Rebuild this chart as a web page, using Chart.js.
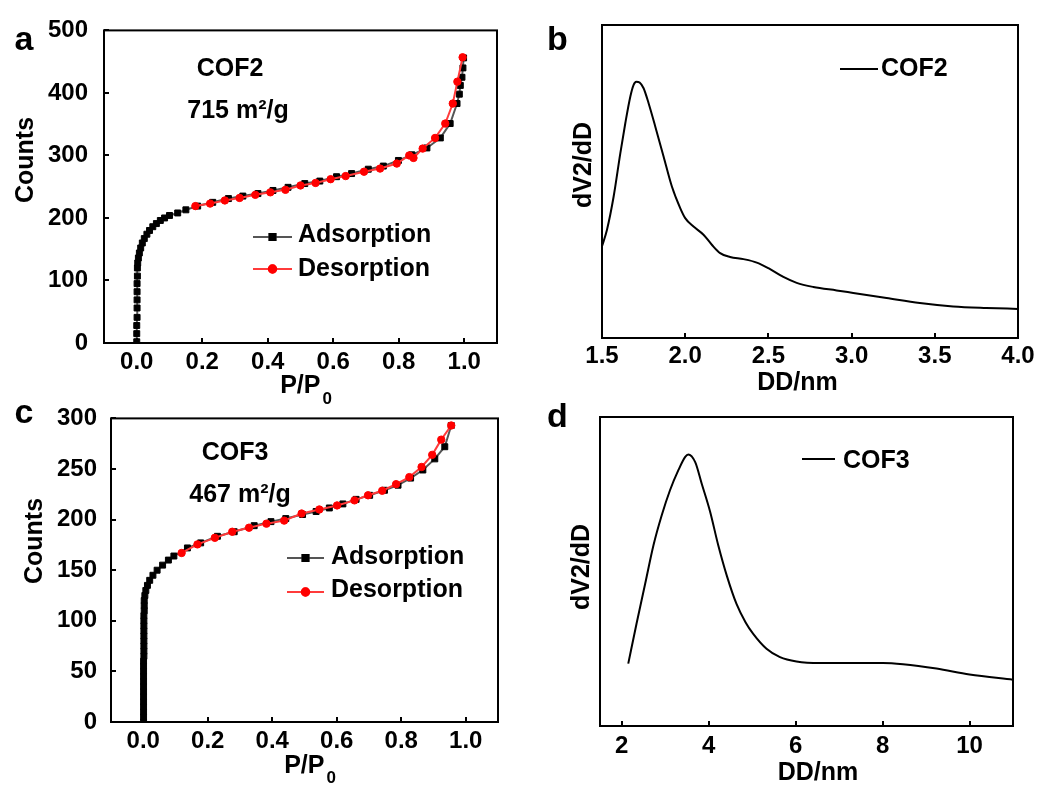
<!DOCTYPE html>
<html lang="en">
<head>
<meta charset="UTF-8">
<title>COF2 / COF3 isotherms and pore size</title>
<style>
  html, body { margin: 0; padding: 0; background: #fff; overflow: hidden; }
  canvas { position: absolute; }
</style>
</head>
<body>
<canvas id="chartA" width="520" height="410" style="left:0;top:0"></canvas>
<canvas id="chartB" width="520" height="410" style="left:520px;top:0"></canvas>
<canvas id="chartC" width="520" height="395" style="left:0;top:390px"></canvas>
<canvas id="chartD" width="520" height="395" style="left:520px;top:390px"></canvas>
<script src="https://cdn.jsdelivr.net/npm/chart.js"></script>
<script>
// ---- data ----
// COF2 isotherm (panel a)
const cof2AdsP = [0.000,0.000,0.000,0.001,0.001,0.001,0.001,0.001,0.002,0.002,
                  0.003,0.005,0.008,0.012,0.017,0.023,0.031,0.039,0.049,0.060,
                  0.072,0.085,0.100,0.125,0.150,0.186,0.232,0.280,0.324,0.370,
                  0.416,0.462,0.513,0.559,0.610,0.656,0.707,0.753,0.799,0.840,
                  0.886,0.927,0.957,0.978,0.985,0.988,0.993,0.996,0.998];
const cof2AdsV = [2,15,28,41,56,69,82,95,107,120,
                  128,136,144,152,160,167,174,180,186,191,
                  196,200,204,208,213,219,225,231,235,239,
                  244,249,255,259,266,271,278,283,292,301,
                  312,328,351,383,398,412,425,440,456];
const cof2DesP = [0.995,0.979,0.965,0.942,0.911,0.873,0.845,0.832,0.794,0.743,0.694,
                  0.638,0.592,0.546,0.500,0.454,0.408,0.362,0.314,0.269,0.224,0.179];
const cof2DesV = [457,418,383,351,328,311,296,300,287,279,274,
                  267,262,256,252,245,241,237,232,228,223,219];

// COF3 isotherm (panel c)
const cof3AdsP = [0.001,0.001,0.001,0.001,0.001,0.001,0.001,0.001,0.001,0.001,0.001,0.001,0.001,
                  0.002,0.002,0.002,0.002,0.002,0.002,0.002,0.002,0.002,0.003,0.003,0.003,
                  0.005,0.008,0.013,0.020,0.030,0.043,0.060,0.078,0.095,
                  0.137,0.178,0.230,0.282,0.344,0.396,0.442,0.494,0.536,0.577,
                  0.619,0.660,0.702,0.748,0.790,0.829,0.867,0.904,0.935,0.955];
const cof3AdsV = [0,5,10,15,20,25,30,35,40,45,50,55,60,
                  65,70,75,80,85,90,95,100,105,110,115,120,
                  125,130,135,140,145,150,155,160,164,
                  172,177,183.5,188,194,198,201,205,208,211.5,
                  215.5,220,224,229,234,241,249,260,272,293];
const cof3DesP = [0.955,0.924,0.896,0.863,0.825,0.784,0.741,0.697,0.655,0.601,
                  0.546,0.491,0.437,0.382,0.328,0.276,0.222,0.168,0.119];
const cof3DesV = [293,279,264,252,242,235,228.5,224,219,214,
                  210,206,199,196,192,188,182,175.5,167];

// pore size distributions (panels b, d), arbitrary units
const psd2D = [1.50,1.53,1.57,1.61,1.64,1.67,1.69,1.706,1.726,1.75,1.78,1.82,1.87,1.92,1.97,2.00,
               2.05,2.11,2.16,2.21,2.27,2.35,2.43,2.50,2.59,2.67,2.77,2.91,3.01,3.21,3.41,3.61,3.81,4.00];
const psd2V = [29.3,34.6,45.2,59.0,68.6,77.1,80.9,81.9,81.6,79.8,75.0,67.6,58.0,48.4,41.5,38.3,
               35.6,33.0,29.8,27.1,25.9,25.2,24.1,22.3,19.5,17.6,16.3,15.2,14.4,12.8,11.2,10.1,9.6,9.3];
const psd3D = [2.15,2.34,2.54,2.73,2.92,3.11,3.30,3.46,3.53,3.69,3.84,4.03,4.22,4.42,4.64,4.85,
               5.02,5.33,5.64,6.02,6.56,7.32,8.01,8.47,9.24,10.0,11.0];
const psd3V = [20.2,33.1,46.1,58.5,68.2,76.3,82.7,87.1,87.9,85.4,78.4,69.5,58.5,48.5,39.5,33.5,
               29.9,25.0,22.3,20.9,20.4,20.4,20.4,20.0,18.6,16.7,15.0];

// tick values
const isoTicksX = [0, 0.2, 0.4, 0.6, 0.8, 1.0];
const cof2TicksY = [0, 100, 200, 300, 400, 500];
const cof3TicksY = [0, 50, 100, 150, 200, 250, 300];
const psd2TicksX = [1.5, 2.0, 2.5, 3.0, 3.5, 4.0];
const psd3TicksX = [2, 4, 6, 8, 10];

const pts = (xs, ys) => xs.map((x, i) => ({x: x, y: ys[i]}));

Chart.defaults.font.family = "'Liberation Sans', Arial, sans-serif";
Chart.defaults.font.size = 24;
Chart.defaults.font.weight = 'bold';
Chart.defaults.color = '#000';

const FONT = "'Liberation Sans', Arial, sans-serif";

// box frame + inward tick marks
const frame = {
  id: 'frame',
  afterDraw(chart, args, o) {
    const ctx = chart.ctx, a = chart.chartArea;
    ctx.save();
    ctx.strokeStyle = '#000';
    ctx.lineWidth = 2;
    ctx.strokeRect(a.left, a.top, a.right - a.left, a.bottom - a.top);
    ctx.beginPath();
    const sx = chart.scales.x;
    sx.ticks.forEach(t => {
      const px = Math.round(sx.getPixelForValue(t.value));
      ctx.moveTo(px, a.bottom); ctx.lineTo(px, a.bottom - 5);
    });
    if (o.yTicks) {
      const sy = chart.scales.y;
      sy.ticks.forEach(t => {
        const py = Math.round(sy.getPixelForValue(t.value));
        ctx.moveTo(a.left, py); ctx.lineTo(a.left + 5, py);
      });
    }
    ctx.stroke();
    ctx.restore();
  }
};

// free text: panel letters, annotations, axis titles
const notes = {
  id: 'notes',
  afterDraw(chart, args, o) {
    const ctx = chart.ctx;
    (o.items || []).forEach(it => {
      ctx.save();
      ctx.fillStyle = '#000';
      ctx.textBaseline = 'alphabetic';
      const f = 'bold ' + it.size + 'px ' + FONT;
      ctx.font = f;
      if (it.rot) {
        ctx.translate(it.x, it.y);
        ctx.rotate(-Math.PI / 2);
        ctx.textAlign = 'center';
        ctx.fillText(it.t, 0, 0);
      } else if (it.sub) {
        const w1 = ctx.measureText(it.t).width;
        const sf = 'bold ' + Math.round(it.size * 0.68) + 'px ' + FONT;
        ctx.font = sf;
        const w2 = ctx.measureText(it.sub).width;
        const x0 = it.x - (w1 + w2 + 2) / 2;
        ctx.textAlign = 'left';
        ctx.font = f;
        ctx.fillText(it.t, x0, it.y);
        ctx.font = sf;
        ctx.fillText(it.sub, x0 + w1 + 2, it.y + it.subDy);
      } else {
        ctx.textAlign = it.align || 'center';
        ctx.fillText(it.t, it.x, it.y);
      }
      ctx.restore();
    });
  }
};

// legend: line with marker in the middle, then label
const keys = {
  id: 'keys',
  afterDraw(chart, args, o) {
    const ctx = chart.ctx;
    (o.items || []).forEach(it => {
      const ds = chart.data.datasets[it.ds];
      ctx.save();
      ctx.strokeStyle = ds.borderColor;
      ctx.lineWidth = ds.borderWidth;
      ctx.beginPath();
      ctx.moveTo(it.x1, it.y); ctx.lineTo(it.x2, it.y);
      ctx.stroke();
      if (ds.pointRadius > 0) {
        Chart.helpers.drawPoint(ctx, {
          pointStyle: ds.pointStyle, radius: ds.pointRadius, rotation: 0,
          borderWidth: 1
        }, (it.x1 + it.x2) / 2, it.y);
        ctx.fillStyle = ds.pointBackgroundColor;
        ctx.strokeStyle = ds.pointBorderColor;
        ctx.fill(); ctx.stroke();
      }
      ctx.fillStyle = '#000';
      ctx.font = 'bold 25px ' + FONT;
      ctx.textAlign = 'left';
      ctx.textBaseline = 'alphabetic';
      ctx.fillText(ds.label, it.tx, it.ty);
      ctx.restore();
    });
  }
};

function panel(id, g, sc, datasets, noteItems, keyItems, yTicks) {
  const xFmt = sc.xFmt, yFmt = sc.yFmt;
  return new Chart(document.getElementById(id), {
    type: 'line',
    data: { datasets: datasets },
    options: {
      responsive: false,
      animation: false,
      parsing: false,
      layout: { padding: { left: 0, top: g.T, right: g.W - g.R, bottom: 0 } },
      scales: {
        x: {
          type: 'linear', min: sc.xMin, max: sc.xMax,
          afterBuildTicks: s => { s.ticks = sc.xTicks.map(v => ({value: v})); },
          afterFit: s => { s.height = g.H - g.B; },
          grid: { display: false, drawTicks: false }, border: { display: false },
          ticks: { autoSkip: false, maxRotation: 0, padding: sc.xPad, callback: xFmt }
        },
        y: {
          type: 'linear', min: sc.yMin, max: sc.yMax,
          afterBuildTicks: s => { if (sc.yTicks) s.ticks = sc.yTicks.map(v => ({value: v})); },
          afterFit: s => { s.width = g.L; },
          grid: { display: false, drawTicks: false }, border: { display: false },
          ticks: { display: !!sc.yTicks, padding: sc.yPad, callback: yFmt }
        }
      },
      plugins: {
        legend: { display: false },
        tooltip: { enabled: false },
        frame: { yTicks: yTicks },
        notes: { items: noteItems },
        keys: { items: keyItems }
      }
    },
    plugins: [frame, notes, keys]
  });
}

function adsorption(p, v) {
  return {
    label: 'Adsorption', data: pts(p, v), order: 1,
    borderColor: '#555', borderWidth: 2, tension: 0,
    pointStyle: 'rect', pointRadius: 4.2, pointBorderWidth: 1,
    pointBackgroundColor: '#000', pointBorderColor: '#000'
  };
}
function desorption(p, v) {
  return {
    label: 'Desorption', data: pts(p, v), order: 0,
    borderColor: '#ff3b3b', borderWidth: 2, tension: 0,
    pointStyle: 'circle', pointRadius: 3.7, pointBorderWidth: 1,
    pointBackgroundColor: '#ff0000', pointBorderColor: '#ff0000'
  };
}
function psd(label, d, v) {
  return {
    label: label, data: pts(d, v),
    borderColor: '#000', borderWidth: 2, pointRadius: 0,
    cubicInterpolationMode: 'monotone'
  };
}

const f1 = v => Number(v).toFixed(1);
const f0 = v => String(v);

// panel a
panel('chartA', {W: 520, H: 410, L: 104, T: 26, R: 497, B: 343},
  {xMin: -0.1, xMax: 1.1, xTicks: isoTicksX, xPad: 5, xFmt: f1,
   yMin: 0, yMax: 500, yTicks: cof2TicksY, yPad: 16, yFmt: f0},
  [adsorption(cof2AdsP, cof2AdsV), desorption(cof2DesP, cof2DesV)],
  [{t: 'a', x: 24, y: 50, size: 34},
   {t: 'COF2', x: 230, y: 76, size: 25},
   {t: '715 m²/g', x: 238, y: 118, size: 25},
   {t: 'Counts', x: 33, y: 160, size: 25, rot: true},
   {t: 'P/P', sub: '0', subDy: 11, x: 306, y: 393, size: 25}],
  [{ds: 0, x1: 253, x2: 292, y: 237, tx: 298, ty: 242},
   {ds: 1, x1: 253, x2: 292, y: 269, tx: 298, ty: 276}],
  true);

// panel b
panel('chartB', {W: 520, H: 410, L: 82, T: 25, R: 498, B: 338},
  {xMin: 1.5, xMax: 4.0, xTicks: psd2TicksX, xPad: 4, xFmt: f1,
   yMin: 0, yMax: 100},
  [psd('COF2', psd2D, psd2V)],
  [{t: 'b', x: 37.5, y: 50, size: 34},
   {t: 'dV2/dD', x: 71, y: 165, size: 25, rot: true},
   {t: 'DD/nm', x: 277.5, y: 390, size: 25}],
  [{ds: 0, x1: 320, x2: 358, y: 69, tx: 361, ty: 76}],
  false);

// panel c
panel('chartC', {W: 520, H: 395, L: 111, T: 21, R: 498, B: 332},
  {xMin: -0.1, xMax: 1.1, xTicks: isoTicksX, xPad: 5, xFmt: f1,
   yMin: 0, yMax: 300, yTicks: cof3TicksY, yPad: 14, yFmt: f0},
  [adsorption(cof3AdsP, cof3AdsV), desorption(cof3DesP, cof3DesV)],
  [{t: 'c', x: 24, y: 33, size: 34},
   {t: 'COF3', x: 235, y: 70, size: 25},
   {t: '467 m²/g', x: 240, y: 112, size: 25},
   {t: 'Counts', x: 42, y: 151, size: 25, rot: true},
   {t: 'P/P', sub: '0', subDy: 10, x: 310, y: 383, size: 25}],
  [{ds: 0, x1: 287, x2: 324, y: 168, tx: 331, ty: 174},
   {ds: 1, x1: 287, x2: 324, y: 202, tx: 331, ty: 207}],
  true);

// panel d
panel('chartD', {W: 520, H: 395, L: 80, T: 27, R: 493, B: 336},
  {xMin: 1.5, xMax: 11, xTicks: psd3TicksX, xPad: 6, xFmt: f0,
   yMin: 0, yMax: 100},
  [psd('COF3', psd3D, psd3V)],
  [{t: 'd', x: 37.5, y: 37, size: 34},
   {t: 'dV2/dD', x: 69, y: 177, size: 25, rot: true},
   {t: 'DD/nm', x: 298, y: 390, size: 25}],
  [{ds: 0, x1: 282, x2: 315, y: 69, tx: 323, ty: 78}],
  false);
</script>
</body>
</html>
